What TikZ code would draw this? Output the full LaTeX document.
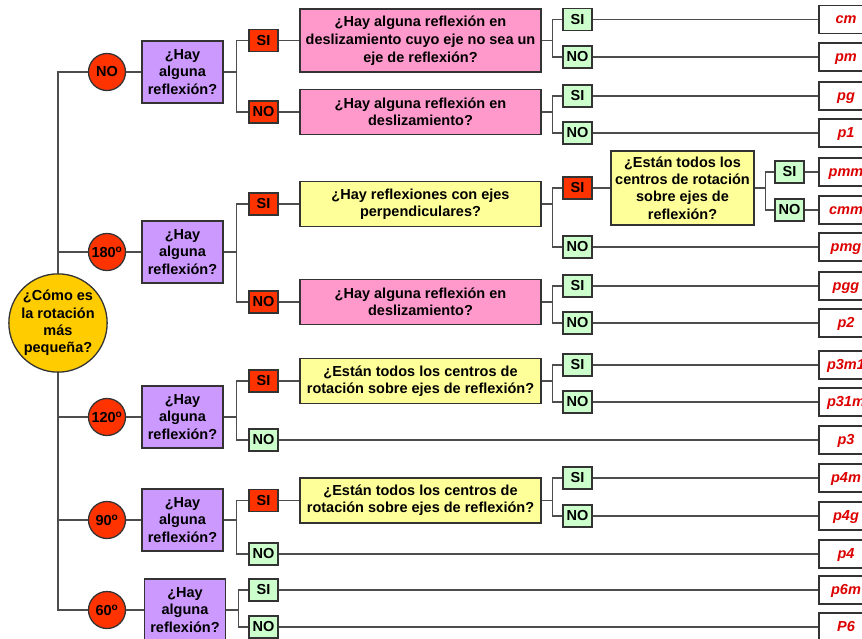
\documentclass[tikz,border=0pt]{standalone}
\usepackage{fontspec}
\setmainfont{Liberation Sans}
\definecolor{edge}{HTML}{333333}
\definecolor{wire}{HTML}{4D4D4D}
\definecolor{rootgold}{HTML}{FFCC00}
\definecolor{hotred}{HTML}{FF3300}
\definecolor{lilac}{HTML}{CC99FF}
\definecolor{rose}{HTML}{FF99CC}
\definecolor{lemon}{HTML}{FFFF99}
\definecolor{mint}{HTML}{CCFFCC}
\definecolor{groupred}{HTML}{DD0000}
\newcommand{\rotdeg}[1]{#1\textsuperscript{o}}
\begin{document}
\begin{tikzpicture}[x=1pt,y=-1pt,
  font=\fontsize{14.5}{17.3}\selectfont\bfseries,
  frame/.style={inner sep=0pt, draw=edge, line width=1.3pt},
  box/.style={frame, align=center},
  conn/.style={draw=wire, line width=1.1pt},
  rootq/.style={box, circle, fill=rootgold, minimum size=97pt},
  angle/.style={box, circle, fill=hotred, minimum size=37pt},
  askbox/.style={box, rectangle, fill=lilac, minimum width=81pt, minimum height=62pt},
  redans/.style={box, rectangle, fill=hotred, minimum width=29pt, minimum height=22pt},
  greenans/.style={box, rectangle, fill=mint, minimum width=29pt, minimum height=22pt},
  pinkq/.style={box, rectangle, fill=rose, minimum width=241pt, minimum height=45pt},
  yellowq/.style={box, rectangle, fill=lemon, minimum width=241pt, minimum height=45pt},
  group/.style={frame, rectangle, fill=white, minimum width=54pt, minimum height=28pt,
    text height=10pt, text depth=1pt,
    text=groupred, font=\fontsize{14.5}{17.3}\selectfont\bfseries\itshape}
]
\path[fill=white] (0,0) rectangle (862,639);
\useasboundingbox (0,0) rectangle (862,639);

% root question and rotation orders
\node[rootq] (root) at (58,323) {¿Cómo es\\la rotación\\más\\pequeña?};
\node[angle] (aNO)  at (107,72)  {NO};
\node[angle] (a180) at (107,252) {\rotdeg{180}};
\node[angle] (a120) at (107,417) {\rotdeg{120}};
\node[angle] (a90)  at (107,520) {\rotdeg{90}};
\node[angle] (a60)  at (107,610) {\rotdeg{60}};

% reflection questions
\node[askbox] (q1) at (182.5,72)  {¿Hay\\alguna\\reflexión?};
\node[askbox] (q2) at (182.5,252) {¿Hay\\alguna\\reflexión?};
\node[askbox] (q3) at (182.5,417) {¿Hay\\alguna\\reflexión?};
\node[askbox] (q4) at (182.5,520) {¿Hay\\alguna\\reflexión?};
\node[askbox] (q5) at (185,610)   {¿Hay\\alguna\\reflexión?};

% first-level answers
\node[redans]   (r1s)  at (263.5,40.5) {SI};
\node[redans]   (r1n)  at (263.5,112)  {NO};
\node[redans]   (r2s)  at (263.5,204)  {SI};
\node[redans]   (r2n)  at (263.5,302)  {NO};
\node[redans]   (r4s)  at (263.5,381)  {SI};
\node[greenans] (g7n)  at (263.5,440)  {NO};
\node[redans]   (r5s)  at (263.5,500.5){SI};
\node[greenans] (g9n)  at (263.5,554)  {NO};
\node[greenans] (g10s) at (263.5,590)  {SI};
\node[greenans] (g10n) at (263.5,627)  {NO};

% second-level questions
\node[pinkq, minimum height=63pt, font=\fontsize{14.5}{18}\selectfont\bfseries] (k1) at (420.5,40.5)
  {¿Hay alguna reflexión en\\deslizamiento cuyo eje no sea un\\eje de reflexión?};
\node[pinkq]   (k2) at (420.5,112) {¿Hay alguna reflexión en\\deslizamiento?};
\node[yellowq] (k3) at (420.5,204) {¿Hay reflexiones con ejes\\perpendiculares?};
\node[pinkq]   (k4) at (420.5,302) {¿Hay alguna reflexión en\\deslizamiento?};
\node[yellowq] (k6) at (420.5,381) {¿Están todos los centros de\\rotación sobre ejes de reflexión?};
\node[yellowq] (k7) at (420.5,500.5) {¿Están todos los centros de\\rotación sobre ejes de reflexión?};

% second-level answers
\node[greenans] (g1s) at (577.5,19.5) {SI};
\node[greenans] (g1n) at (577.5,57)   {NO};
\node[greenans] (g2s) at (577.5,96)   {SI};
\node[greenans] (g2n) at (577.5,133)  {NO};
\node[redans]   (r3)  at (577.5,188)  {SI};
\node[greenans] (g3n) at (577.5,247)  {NO};
\node[greenans] (g4s) at (577.5,286)  {SI};
\node[greenans] (g4n) at (577.5,323)  {NO};
\node[greenans] (g6s) at (577.5,365)  {SI};
\node[greenans] (g6n) at (577.5,402)  {NO};
\node[greenans] (g8s) at (577.5,478)  {SI};
\node[greenans] (g8n) at (577.5,516)  {NO};

% third-level question and answers
\node[yellowq, minimum width=143pt, minimum height=74pt] (k5) at (682.5,188)
  {¿Están todos los\\centros de rotación\\sobre ejes de\\reflexión?};
\node[greenans] (g5s) at (789.5,172) {SI};
\node[greenans] (g5n) at (789.5,210) {NO};

% wallpaper groups
\node[group] (lcm)   at (846,19.5) {cm};
\node[group] (lpm)   at (846,57)   {pm};
\node[group] (lpg)   at (846,96)   {pg};
\node[group] (lp1)   at (846,133)  {p1};
\node[group] (lpmm)  at (846,172)  {pmm};
\node[group] (lcmm)  at (846,210)  {cmm};
\node[group] (lpmg)  at (846,247)  {pmg};
\node[group] (lpgg)  at (846,286)  {pgg};
\node[group] (lp2)   at (846,323)  {p2};
\node[group] (lp3m1) at (846,365)  {p3m1};
\node[group] (lp31m) at (846,402)  {p31m};
\node[group] (lp3)   at (846,440)  {p3};
\node[group] (lp4m)  at (846,478)  {p4m};
\node[group] (lp4g)  at (846,516)  {p4g};
\node[group] (lp4)   at (846,554)  {p4};
\node[group] (lp6m)  at (846,590)  {p6m};
\node[group] (lP6)   at (846,627)  {P6};

% trunk from the root question
\foreach \a in {aNO,a180,a120,a90,a60} \draw[conn] (root) |- (\a);
% rotation order to reflection question
\draw[conn] (aNO) -- (q1);
\draw[conn] (a180) -- (q2);
\draw[conn] (a120) -- (q3);
\draw[conn] (a90) -- (q4);
\draw[conn] (a60) -- (q5);
% forks after the reflection questions
\draw[conn] (q1.east) -- ++(13,0) |- (r1s);
\draw[conn] (q1.east) -- ++(13,0) |- (r1n);
\draw[conn] (q2.east) -- ++(13,0) |- (r2s);
\draw[conn] (q2.east) -- ++(13,0) |- (r2n);
\draw[conn] (q3.east) -- ++(13,0) |- (r4s);
\draw[conn] (q3.east) -- ++(13,0) |- (g7n);
\draw[conn] (q4.east) -- ++(13,0) |- (r5s);
\draw[conn] (q4.east) -- ++(13,0) |- (g9n);
\draw[conn] (q5.east) -- ++(12,0) |- (g10s);
\draw[conn] (q5.east) -- ++(12,0) |- (g10n);
% answers to second-level questions
\draw[conn] (r1s) -- (k1);
\draw[conn] (r1n) -- (k2);
\draw[conn] (r2s) -- (k3);
\draw[conn] (r2n) -- (k4);
\draw[conn] (r4s) -- (k6);
\draw[conn] (r5s) -- (k7);
% forks after the second-level questions
\foreach \k/\s/\n in {k1/g1s/g1n, k2/g2s/g2n, k3/r3/g3n, k4/g4s/g4n, k6/g6s/g6n, k7/g8s/g8n, k5/g5s/g5n} {
  \draw[conn] (\k.east) -- ++(11,0) |- (\s);
  \draw[conn] (\k.east) -- ++(11,0) |- (\n);
}
\draw[conn] (r3) -- (k5);
% answers to wallpaper groups
\foreach \g/\l in {g1s/lcm, g1n/lpm, g2s/lpg, g2n/lp1, g5s/lpmm, g5n/lcmm, g3n/lpmg,
  g4s/lpgg, g4n/lp2, g6s/lp3m1, g6n/lp31m, g7n/lp3, g8s/lp4m, g8n/lp4g, g9n/lp4,
  g10s/lp6m, g10n/lP6}
  \draw[conn] (\g) -- (\l);
\end{tikzpicture}
\end{document}
